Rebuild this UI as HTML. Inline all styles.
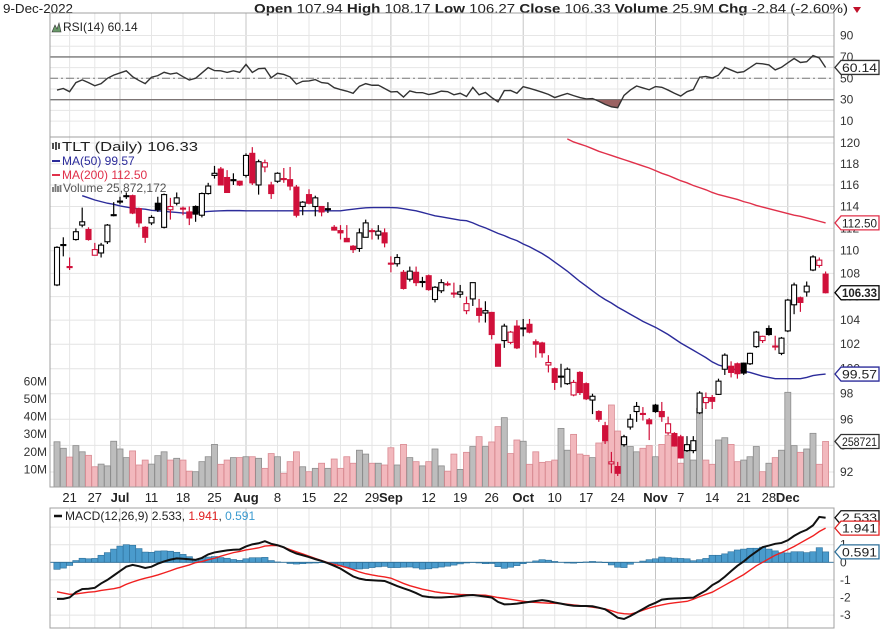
<!DOCTYPE html>
<html><head><meta charset="utf-8"><style>
html,body{margin:0;padding:0;background:#fff;}
svg{display:block;font-family:"Liberation Sans",Arial,sans-serif;}
</style></head><body>
<svg id="chart" width="882" height="630" viewBox="0 0 882 630" xmlns="http://www.w3.org/2000/svg">
<text x="3" y="13" font-size="13" fill="#222" textLength="70" lengthAdjust="spacingAndGlyphs">9-Dec-2022</text>
<text x="254" y="13" font-size="13" fill="#222" textLength="594" lengthAdjust="spacingAndGlyphs"><tspan font-weight="bold">Open</tspan> 107.94 <tspan font-weight="bold">High</tspan> 108.17 <tspan font-weight="bold">Low</tspan> 106.27 <tspan font-weight="bold">Close</tspan> 106.33 <tspan font-weight="bold">Volume</tspan> 25.9M <tspan font-weight="bold">Chg</tspan> -2.84 (-2.60%)</text>
<polygon points="853,7 861,7 857,13" fill="#c0102a"/>
</svg>
<script>
// ---------- DATA ----------
const opens=[107.0,110.5,108.6,111.0,112.3,111.9,109.6,109.8,110.8,113.2,114.45,115.0,115.0,113.8,112.1,112.5,114.3,112.1,113.7,114.3,113.85,113.5,114.0,113.2,115.2,116.9,117.5,116.7,116.4,116.35,116.9,119.0,116.0,117.7,116.0,116.35,116.6,116.5,115.8,114.0,115.1,114.0,114.0,113.75,112.1,111.8,111.1,110.4,110.2,111.2,111.8,111.4,111.6,108.9,108.85,108.1,107.5,108.1,107.25,107.8,105.75,106.5,107.1,106.3,106.2,104.8,105.8,105.0,104.6,104.65,102.0,102.3,102.15,103.5,103.3,103.65,102.2,102.1,100.3,100.0,99.35,98.8,97.9,99.7,98.8,97.5,96.6,95.5,92.6,92.4,94.05,95.4,96.6,96.45,95.95,97.1,96.6,94.95,94.9,94.65,93.6,93.6,96.5,97.3,97.7,97.95,99.96,100.2,100.4,100.45,100.4,101.8,102.3,103.3,101.85,101.25,103.1,105.3,105.9,106.4,108.3,108.7,107.94];
const highs=[110.4,111.2,109.4,112.0,113.9,112.1,110.7,110.7,112.4,114.4,114.9,115.3,115.1,113.9,112.2,113.2,114.9,115.2,114.8,115.3,114.0,114.0,114.1,115.3,116.2,117.8,117.7,117.4,117.1,116.4,119.0,119.6,118.4,118.4,116.3,117.2,117.6,117.7,116.0,114.5,115.6,115.0,114.0,114.4,112.3,112.3,112.3,110.5,112.0,112.8,112.0,112.3,112.0,109.5,109.7,108.3,108.6,108.6,107.7,107.9,106.9,107.5,107.3,107.2,107.0,106.0,107.2,105.8,105.6,104.7,102.0,103.7,103.1,104.0,104.1,104.1,102.4,102.2,101.1,100.1,100.4,100.1,99.1,99.8,98.9,98.0,96.7,95.8,93.5,92.75,94.8,96.4,97.35,96.95,96.1,97.2,97.35,96.2,95.0,94.8,94.7,94.7,98.2,98.1,97.9,99.2,101.25,100.6,100.5,100.5,101.3,103.1,102.7,103.56,102.7,102.6,105.8,107.2,106.0,107.3,109.6,109.4,108.17];
const lows=[106.9,109.5,108.3,110.9,112.1,110.9,109.6,109.4,110.6,113.1,114.2,114.7,113.3,112.1,110.7,112.3,113.5,112.0,112.8,114.1,113.2,112.3,112.6,113.0,115.1,116.6,116.0,115.3,116.0,115.9,116.7,116.0,115.1,117.2,114.7,116.2,116.2,115.5,113.0,113.2,114.2,113.1,113.1,113.4,111.8,111.0,110.8,109.8,109.9,111.2,111.0,111.0,110.3,108.1,108.6,106.6,107.3,106.9,106.8,106.5,105.5,106.3,106.9,105.9,105.9,104.5,105.2,103.8,103.8,102.4,100.2,101.7,102.0,101.6,102.65,102.9,100.9,100.9,99.7,98.3,98.5,98.7,97.8,97.9,97.5,96.4,95.8,94.1,91.9,91.7,93.9,95.2,95.8,95.9,94.4,96.5,95.8,94.8,93.9,93.0,93.5,93.4,96.4,96.8,96.8,97.9,99.5,99.3,99.2,99.5,100.3,101.7,102.1,102.7,101.5,101.1,103.0,104.5,104.7,106.0,108.2,108.5,106.27];
const closes=[110.3,110.55,108.55,111.7,112.6,111.0,110.1,110.5,112.3,113.25,114.5,115.0,113.4,112.5,111.2,113.0,113.7,115.1,114.0,114.8,113.8,112.95,113.3,115.2,115.9,117.1,116.0,115.3,116.5,116.0,118.8,116.2,118.2,118.1,115.2,117.1,116.55,115.9,113.2,114.4,114.3,114.8,113.5,113.8,111.85,111.6,110.8,110.1,111.6,112.5,111.75,111.75,110.7,108.85,109.4,106.7,108.2,107.2,107.3,106.6,106.8,107.2,107.05,106.25,106.4,105.4,107.2,104.4,104.8,102.8,100.2,103.5,103.0,101.7,103.35,103.0,102.0,101.3,100.5,98.9,99.4,99.96,98.9,98.1,97.6,97.8,96.0,94.35,92.75,91.9,94.65,96.0,97.0,96.4,95.65,96.6,96.2,95.65,93.95,93.05,94.05,94.35,98.05,97.7,97.4,99.0,101.1,99.7,99.6,99.65,101.25,103.0,102.65,102.8,101.8,102.5,105.7,107.0,105.5,106.9,109.45,109.17,106.33];
const volumesM=[25.7,22,17,23.5,20,18,11.5,13,12,26,21.6,16.7,20.5,12.5,15.3,13,17.8,20,15.3,16.3,15.3,9,8.7,14.4,17.2,24.2,12.9,15.3,16.7,16.7,17.2,17.2,16.3,10.6,19,17.2,7.8,14.4,20,11.5,8.7,10.6,13.5,10.6,15.9,10.6,17.2,13.5,20.9,18.7,13.5,13.5,12.5,22.3,12.5,24.2,16.7,14.4,12,14.4,21.6,12,9,18.7,10,19.7,23,28.6,23,25.6,34.3,39.4,19,26.7,26,12.9,20,14,14.4,15.3,33.3,20.9,29.9,18.7,18,16.7,25,25.6,46.6,31.8,28.6,23,20,22,23.5,17.2,24.2,29.4,27.5,13.5,20.9,15.3,44.7,15.3,12.9,26.7,28,24.2,14.4,15.3,17.2,23,8.7,13.5,16.7,20.9,53.8,23.5,19.7,21.6,30.5,12.9,25.87];
const ma50=[null,null,null,null,115.0,114.8,114.6,114.45,114.3,114.2,114.05,113.95,113.85,113.8,113.75,113.65,113.6,113.55,113.5,113.45,113.4,113.4,113.45,113.5,113.55,113.58,113.6,113.62,113.62,113.62,113.6,113.6,113.6,113.6,113.6,113.6,113.6,113.6,113.6,113.6,113.6,113.6,113.6,113.6,113.6,113.6,113.68,113.75,113.82,113.88,113.9,113.9,113.9,113.9,113.88,113.8,113.7,113.6,113.45,113.3,113.15,113.05,112.95,112.85,112.75,112.7,112.5,112.25,112.05,111.8,111.55,111.35,111.1,110.9,110.6,110.35,110.05,109.75,109.4,109.0,108.6,108.2,107.75,107.3,106.9,106.5,106.1,105.75,105.45,105.1,104.8,104.5,104.2,103.9,103.65,103.4,103.1,102.8,102.45,102.1,101.8,101.5,101.2,100.9,100.55,100.3,100.15,100.0,99.9,99.8,99.7,99.55,99.4,99.3,99.2,99.2,99.2,99.2,99.2,99.3,99.45,99.52,99.57];
const ma200=[null,null,null,null,null,null,null,null,null,null,null,null,null,null,null,null,null,null,null,null,null,null,null,null,null,null,null,null,null,null,null,null,null,null,null,null,null,null,null,null,null,null,null,null,null,null,null,null,null,null,null,null,null,null,null,null,null,null,null,null,null,null,null,null,null,null,null,null,null,null,null,null,null,null,null,null,null,null,null,null,null,120.4,120.1,119.9,119.7,119.45,119.2,119.0,118.8,118.6,118.4,118.2,118.0,117.8,117.6,117.35,117.1,116.9,116.65,116.4,116.2,115.95,115.75,115.55,115.3,115.1,114.95,114.8,114.65,114.45,114.3,114.1,113.95,113.8,113.65,113.5,113.35,113.2,113.1,112.95,112.8,112.65,112.5];
const rsi=[39,40.5,37.5,46,48.5,46,43,45,50,53,55,57,51.5,48,45,51,52.5,55.6,54,55,51.5,48.4,50,55,60,57.2,57,55.5,57,55.6,63,55.5,59,59.4,50.5,54.7,53.6,51.3,44.6,47.2,47.5,48.8,46,45.3,41.2,39.5,38,36,42.5,45,43.5,43.6,40.5,37.3,37.6,32.5,38.2,36.7,36.6,34.8,36,38,37.5,34.6,36,33,41.5,34.6,36.8,32,28,38.5,38.6,36,42.2,40.6,38.9,37,35,32,34,35.8,33.8,32,30.7,31.1,28.6,25.6,23.3,22.5,34,39,42.8,41,39.3,42.3,41.6,39,36,33.4,37.5,39.5,51,51.7,50.3,53,60.2,57.7,55.3,56.2,60,64,63.5,62.5,57.8,60.3,64.5,68.5,64.8,65.5,71.2,69,60.14];
const macd=[-2.08,-2.08,-2.0,-1.7,-1.52,-1.5,-1.45,-1.2,-1.0,-0.75,-0.5,-0.25,-0.15,-0.22,-0.32,-0.25,-0.08,0.05,0.15,0.22,0.2,0.17,0.14,0.25,0.45,0.56,0.62,0.68,0.71,0.73,0.9,1.02,1.08,1.2,1.05,0.97,0.85,0.65,0.5,0.4,0.3,0.18,0.08,-0.05,-0.2,-0.36,-0.58,-0.8,-0.93,-1.0,-1.02,-1.04,-1.06,-1.2,-1.35,-1.48,-1.6,-1.75,-1.92,-1.97,-2.0,-2.0,-1.98,-1.96,-1.92,-1.88,-1.86,-1.9,-1.95,-2.0,-2.25,-2.39,-2.38,-2.35,-2.3,-2.25,-2.2,-2.15,-2.2,-2.28,-2.35,-2.42,-2.47,-2.48,-2.48,-2.5,-2.58,-2.67,-2.9,-3.15,-3.22,-3.05,-2.85,-2.65,-2.45,-2.3,-2.12,-2.08,-2.06,-2.04,-2.02,-2.01,-1.8,-1.6,-1.3,-1.1,-0.82,-0.5,-0.2,0.05,0.35,0.6,0.86,0.95,1.05,1.1,1.25,1.5,1.7,1.85,2.1,2.58,2.533];
const signal=[-1.68,-1.75,-1.82,-1.8,-1.75,-1.7,-1.67,-1.6,-1.55,-1.5,-1.42,-1.25,-1.12,-1.0,-0.9,-0.82,-0.72,-0.6,-0.48,-0.35,-0.25,-0.15,-0.02,0.04,0.15,0.23,0.35,0.45,0.55,0.62,0.7,0.76,0.82,0.92,0.95,0.95,0.85,0.72,0.6,0.48,0.35,0.22,0.1,-0.02,-0.12,-0.2,-0.3,-0.42,-0.55,-0.65,-0.72,-0.78,-0.83,-0.9,-1.05,-1.2,-1.33,-1.43,-1.53,-1.6,-1.68,-1.73,-1.76,-1.8,-1.83,-1.84,-1.85,-1.86,-1.87,-1.93,-2.0,-2.05,-2.1,-2.16,-2.22,-2.26,-2.28,-2.3,-2.32,-2.33,-2.35,-2.38,-2.42,-2.46,-2.5,-2.55,-2.6,-2.65,-2.75,-2.87,-2.92,-2.94,-2.85,-2.72,-2.6,-2.5,-2.42,-2.35,-2.3,-2.26,-2.22,-2.1,-1.95,-1.82,-1.7,-1.5,-1.3,-1.1,-0.9,-0.7,-0.45,-0.2,0.0,0.2,0.4,0.55,0.72,0.9,1.1,1.3,1.5,1.75,1.941];
const dateTickIdx=[2,6,10,15,20,25,30,35,40,45,50,53,59,64,69,74,79,84,89,95,99,104,109,113,116];
const dateTickLabels=["21","27","Jul","11","18","25","Aug","8","15","22","29","Sep","12","19","26","Oct","10","17","24","Nov","7","14","21","28","Dec"];
const monthTickIdx=[10,30,53,74,95,116];
const priceTicks=[92,94,96,98,100,102,104,106,108,110,112,114,116,118,120];
const volumeTicks=[10,20,30,40,50,60];
const rsiTicks=[10,30,50,70,90];
const macdTicks=[-3,-2,-1,0,1,2];

// ---------- SCALES ----------
const L=50,R=834;
const X=i=>57+6.3*i;
const PY=p=>143+(Math.log(120)-Math.log(p))*1238;
const VY=v=>487-v*1.76;
const RY=r=>78.3-(r-50)*1.07;
const MY=m=>562.3-m*17.6;
const NS='http://www.w3.org/2000/svg';
const svg=document.getElementById('chart');
function mk(tag,attrs,parent){const e=document.createElementNS(NS,tag);for(const k in attrs)e.setAttribute(k,attrs[k]);(parent||svg).appendChild(e);return e;}
let el;

// defs / clips
const defs=mk('defs',{});
const cp=mk('clipPath',{id:'mainClip'},defs);mk('rect',{x:L,y:137,width:R-L,height:350},cp);
const cp2=mk('clipPath',{id:'rsiLow'},defs);mk('rect',{x:L,y:RY(30),width:R-L,height:40},cp2);
const cp3=mk('clipPath',{id:'macdClip'},defs);mk('rect',{x:L,y:508,width:R-L,height:120},cp3);

// ---------- GRIDS ----------
function vgrid(y1,y2,name){
  dateTickIdx.forEach((d,k)=>{
    const month=monthTickIdx.indexOf(d)>=0;
    el=mk('line',{x1:X(d),x2:X(d),y1:y1,y2:y2,stroke:month?'#c4c4c4':'#e6e6e6','stroke-width':1});
    
    
  });
}
vgrid(13,137,'rsi');vgrid(137,487,'price');vgrid(508,628,'macd');

// RSI panel
for(let r=10;r<=90;r+=10){
  el=mk('line',{x1:L,x2:R,y1:RY(r),y2:RY(r),stroke:'#e6e6e6'});
  
  
}
rsiTicks.forEach(r=>{
  el=mk('text',{x:840,y:RY(r)+4,'font-size':12,fill:'#333'});el.textContent=String(r);
  
  
});
[70,30].forEach(r=>{
  el=mk('line',{x1:L,x2:R,y1:RY(r),y2:RY(r),stroke:'#777','stroke-width':1.4});
  
  
});
el=mk('line',{x1:L,x2:R,y1:RY(50),y2:RY(50),stroke:'#777','stroke-width':1,'stroke-dasharray':'8,3,2,3'});



// Price panel grid
priceTicks.forEach(p=>{
  el=mk('line',{x1:L,x2:R,y1:PY(p),y2:PY(p),stroke:'#e4e4e4'});
  
  
  el=mk('text',{x:840,y:PY(p)+4,'font-size':12,fill:'#333'});el.textContent=String(p);
  
  
});
volumeTicks.forEach(v=>{
  el=mk('text',{x:47,y:VY(v)+4,'font-size':12,fill:'#333','text-anchor':'end'});el.textContent=v+'M';
  
  
});

// MACD grid
macdTicks.forEach(m=>{
  el=mk('line',{x1:L,x2:R,y1:MY(m),y2:MY(m),stroke:'#e4e4e4'});
  
  
  el=mk('text',{x:840,y:MY(m)+4,'font-size':12,fill:'#333'});el.textContent=String(m);
  
  
});

// date labels
dateTickIdx.forEach((d,k)=>{
  const month=monthTickIdx.indexOf(d)>=0;
  el=mk('text',{x:X(d),y:502,'font-size':13,fill:'#222','text-anchor':'middle','font-weight':month?'bold':'normal'});
  el.textContent=dateTickLabels[k];
  
  
});

// ---------- RSI ----------
const rsiPts=rsi.map((v,i)=>X(i)+','+RY(v));
const lowPoly=[X(0)+','+RY(30)].concat(rsiPts,[X(rsi.length-1)+','+RY(30)]).join(' ');
el=mk('polygon',{points:lowPoly,fill:'#9a6262','clip-path':'url(#rsiLow)'});


el=mk('polyline',{points:rsiPts.join(' '),fill:'none',stroke:'#333','stroke-width':1.4});



// ---------- PRICE PANEL ----------
const g=mk('g',{'clip-path':'url(#mainClip)'});


function isUp(i){return i===0?closes[i]>=opens[i]:closes[i]>=closes[i-1];}
volumesM.forEach((v,i)=>{
  const up=isUp(i);
  el=mk('rect',{x:X(i)-3,y:VY(v),width:6,height:487-VY(v),fill:up?'#bdbdbd':'#f2b8bd',stroke:up?'#8c8c8c':'#d98a92','stroke-width':0.8},g);
  
  
});
function maLine(arr,color,name){
  const pts=[];arr.forEach((v,i)=>{if(v!==null)pts.push(X(i)+','+PY(v));});
  el=mk('polyline',{points:pts.join(' '),fill:'none',stroke:color,'stroke-width':1.4},g);
  
  
}
maLine(ma50,'#2b2b9a','ma50-line');
maLine(ma200,'#e0304a','ma200-line');
closes.forEach((c,i)=>{
  const o=opens[i],up=isUp(i),col=up?'#000':'#d0103a',hollow=c>=o;
  el=mk('line',{x1:X(i),x2:X(i),y1:PY(highs[i]),y2:PY(lows[i]),stroke:col,'stroke-width':1.2},g);
  
  
  const top=PY(Math.max(o,c)),bot=PY(Math.min(o,c));
  el=mk('rect',{x:X(i)-2.5,y:top,width:5,height:Math.max(1,bot-top),fill:hollow?'#fff':col,stroke:col,'stroke-width':1.1},g);
  
  
});

// legend
el=mk('text',{x:62,y:151,'font-size':13,fill:'#222',textLength:136,lengthAdjust:'spacingAndGlyphs'});el.textContent='TLT (Daily) 106.33';


el=mk('path',{d:'M53 143v6M56 142v8M59 143v6',stroke:'#222','stroke-width':1.6});


el=mk('line',{x1:52,x2:60,y1:161,y2:161,stroke:'#2b2b9a','stroke-width':2});


el=mk('text',{x:62,y:165,'font-size':12,fill:'#2b2b9a'});el.textContent='MA(50) 99.57';


el=mk('line',{x1:52,x2:60,y1:175,y2:175,stroke:'#e0304a','stroke-width':2});


el=mk('text',{x:62,y:179,'font-size':12,fill:'#e0304a'});el.textContent='MA(200) 112.50';


el=mk('path',{d:'M53 192v-5M55.5 192v-8M58 192v-6M60.5 192v-7',stroke:'#777','stroke-width':1.8});


el=mk('text',{x:63,y:192,'font-size':12,fill:'#555'});el.textContent='Volume 25,872,172';



// RSI legend
el=mk('path',{d:'M52 32l3-7 2 4 2-6 2 9z',fill:'#6a9a6a',stroke:'#333','stroke-width':0.6});


el=mk('text',{x:63,y:31,'font-size':12,fill:'#222'});el.textContent='RSI(14) 60.14';



// ---------- MACD ----------
const gm=mk('g',{'clip-path':'url(#macdClip)'});


macd.forEach((m,i)=>{
  const h=m-signal[i];const y0=MY(0),y1=MY(h);
  el=mk('rect',{x:X(i)-3.15,y:Math.min(y0,y1),width:6.3,height:Math.abs(y1-y0),fill:'#4a9bcc',stroke:'#2d6f99','stroke-width':0.6},gm);
  
  
});
el=mk('line',{x1:L,x2:R,y1:MY(0),y2:MY(0),stroke:'#2d6f99','stroke-width':0.8},gm);


el=mk('polyline',{points:signal.map((v,i)=>X(i)+','+MY(v)).join(' '),fill:'none',stroke:'#f02020','stroke-width':1.4},gm);


el=mk('polyline',{points:macd.map((v,i)=>X(i)+','+MY(v)).join(' '),fill:'none',stroke:'#111','stroke-width':2},gm);


el=mk('line',{x1:54,x2:62,y1:516,y2:516,stroke:'#111','stroke-width':2.5});


const mt=mk('text',{x:65,y:520,'font-size':12,fill:'#222'});
mt.innerHTML='MACD(12,26,9) 2.533, <tspan fill="#e02020">1.941</tspan>, <tspan fill="#3a9ad0">0.591</tspan>';



// ---------- FRAMES ----------
[[13,124,'rsi-panel-frame'],[137,350,'price-panel-frame'],[508,120,'macd-panel-frame']].forEach(f=>{
  el=mk('rect',{x:L,y:f[0],width:R-L,height:f[1],fill:'none',stroke:'#a0a0a0','stroke-width':1});
  
  
});

// ---------- VALUE TAGS ----------
function tag(y,txt,color,bold,name){
  el=mk('polygon',{points:`835,${y} 841,${y-7} 879,${y-7} 879,${y+7} 841,${y+7}`,fill:'#fff',stroke:color,'stroke-width':1.3});
  
  
  el=mk('text',{x:842,y:y+4.5,'font-size':12,fill:'#222','font-weight':bold?'bold':'normal',textLength:35,lengthAdjust:'spacingAndGlyphs'});
  el.textContent=txt;
  
  
}
tag(RY(rsi[rsi.length-1]),'60.14','#333',false,'rsi-value-tag');
tag(PY(ma200[ma200.length-1]),'112.50','#e0304a',false,'ma200-value-tag');
tag(PY(closes[closes.length-1]),'106.33','#000',true,'close-value-tag');
tag(PY(ma50[ma50.length-1]),'99.57','#2b2b9a',false,'ma50-value-tag');
tag(VY(volumesM[volumesM.length-1]),'258721','#333',false,'volume-value-tag');
tag(MY(macd[macd.length-1]),'2.533','#111',false,'macd-value-tag');
tag(MY(signal[signal.length-1]),'1.941','#e02020',false,'signal-value-tag');
tag(MY(macd[macd.length-1]-signal[signal.length-1]),'0.591','#2d6f99',false,'histogram-value-tag');
</script>
</body></html>
